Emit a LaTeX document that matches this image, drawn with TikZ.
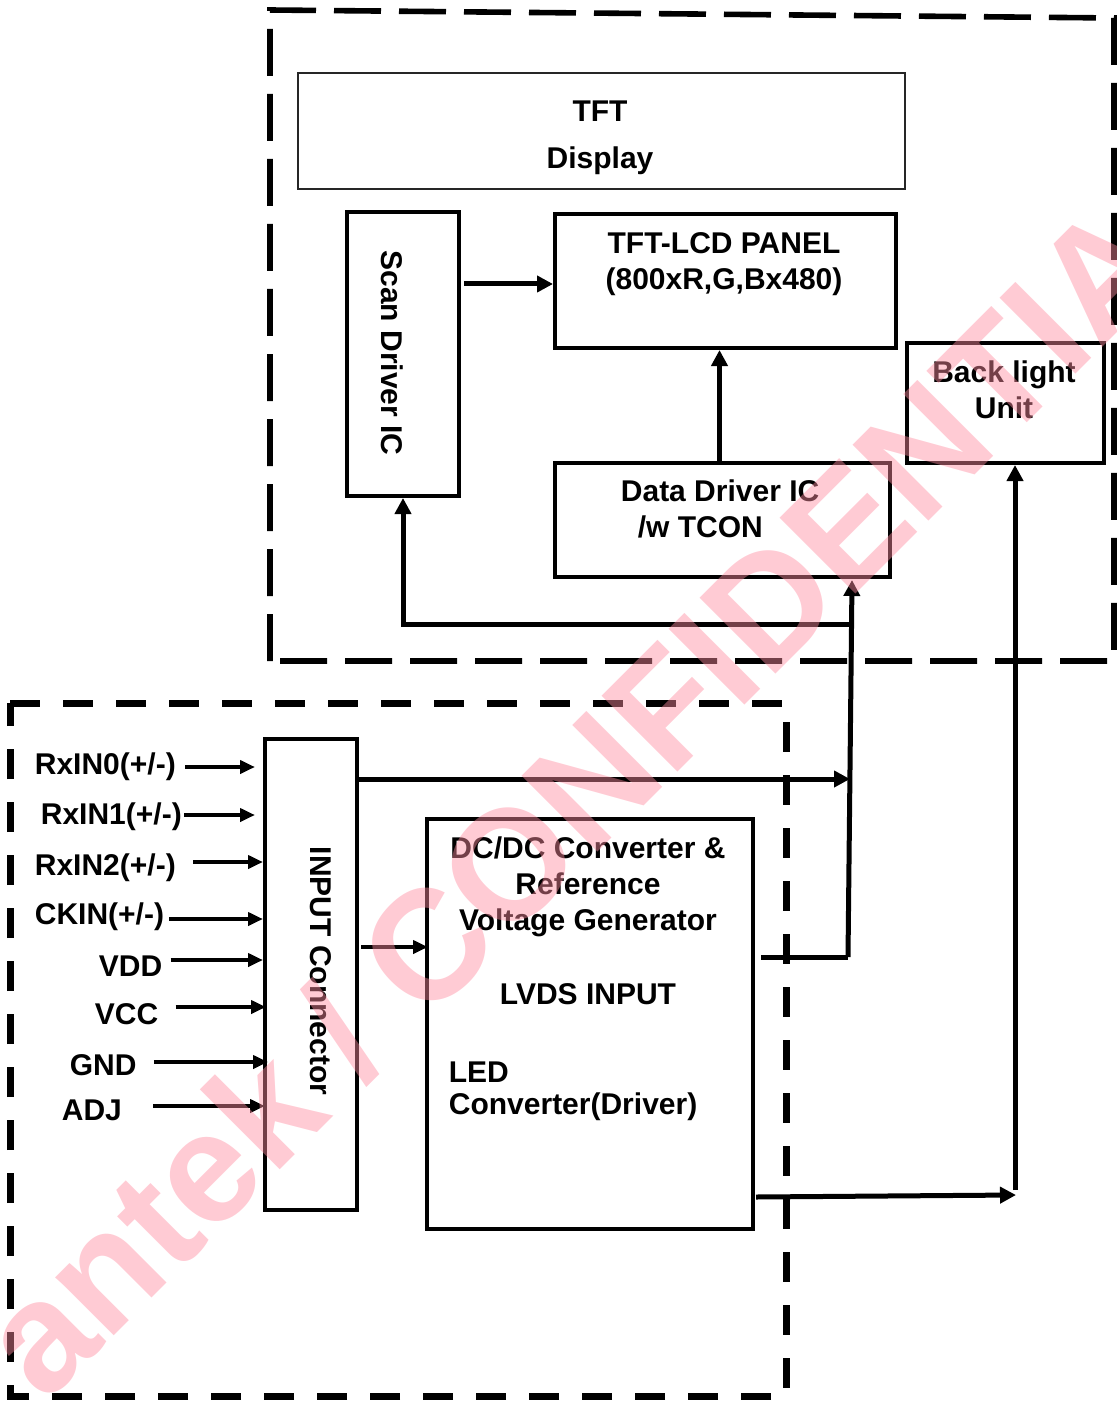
\documentclass[tikz,border=0pt]{standalone}
\usepackage{fontspec}
\setmainfont{Liberation Sans}
\usetikzlibrary{arrows.meta, positioning, calc}
\definecolor{wmpink}{RGB}{255,140,160}

\begin{document}
\begin{tikzpicture}[x=0.5pt,y=0.5pt,yscale=-1,xscale=1,
  box/.style={draw, line width=2pt, inner sep=0pt, anchor=north west},
  txt/.style={font=\fontsize{15}{18}\selectfont\bfseries, inner sep=0.75pt, align=center},
  conn/.style={line width=2.5pt, -{Triangle[length=8pt,width=8pt]}},
  sig/.style={line width=2pt, -{Triangle[length=7.5pt,width=6.5pt]}},
  bus/.style={line width=2.5pt},
  frametop/.style={line width=2.8pt, dash pattern=on 23.5pt off 9pt},
  framebot/.style={line width=3.5pt, dash pattern=on 15pt off 11.5pt},
  wmark/.style={font=\fontsize{78}{78}\selectfont\bfseries, text=wmpink, text opacity=0.45, inner sep=0pt}]
\useasboundingbox (0,0) rectangle (1116,1401);

%Dashed frames
\draw [frametop] (270,661) -- (270,10) -- (1114,18) -- (1114,661) -- cycle ;
\draw [framebot] (10,703) -- (786,703) -- (786,1396) -- (10,1396) -- cycle ;

%Shape: Rectangle [display]
\node [box, line width=1pt, draw=black!85, minimum width=303.5pt, minimum height=58pt] (disp) at (297,72) {};
%Shape: Rectangle [scan driver]
\node [box, minimum width=56pt, minimum height=142pt] (scan) at (345,210) {};
%Shape: Rectangle [panel]
\node [box, minimum width=170.5pt, minimum height=67pt] (panel) at (553,212) {};
%Shape: Rectangle [data driver]
\node [box, minimum width=167.5pt, minimum height=57pt] (ddrv) at (553,461) {};
%Shape: Rectangle [back light]
\node [box, minimum width=98.5pt, minimum height=60pt] (blu) at (905,341) {};
%Shape: Rectangle [input connector]
\node [box, minimum width=46pt, minimum height=235.5pt] (inconn) at (263,737) {};
%Shape: Rectangle [dc/dc]
\node [box, minimum width=163pt, minimum height=205pt] (dcdc) at (425,817) {};

% Text Node
\node [txt] (disptxt) at (600,138) {TFT\\[5.5pt]Display};
% Text Node
\node [txt] (paneltxt) at (724,264) {TFT-LCD PANEL\\(800xR,G,Bx480)};
% Text Node
\node [txt, align=left, anchor=west] (ddrvtxt) at (619,509) {Data Driver IC\\\hspace*{8.5pt}/w TCON};
% Text Node
\node [txt] (blutxt) at (1004,390) {Back light\\Unit};
% Text Node
\node [txt, rotate=-90] (scantxt) at (392,353) {Scan Driver IC};
% Text Node
\node [txt, rotate=-90] (conntxt) at (321,971) {INPUT Connector};
% Text Node
\node [txt] (dcdctxt) at (588,887) {DC/DC Converter \&\\Reference\\Voltage Generator};
% Text Node
\node [txt] (lvdstxt) at (588,994) {LVDS INPUT};
% Text Node
\node [txt, align=left, anchor=west, font=\fontsize{15}{16}\selectfont\bfseries] (ledtxt) at (447,1091) {LED\\Converter(Driver)};

% Text Node
\node [txt, anchor=west] (rx0) at (33,767) {RxIN0(+/-)};
% Text Node
\node [txt, anchor=west] (rx1) at (39,817) {RxIN1(+/-)};
% Text Node
\node [txt, anchor=west] (rx2) at (33,868) {RxIN2(+/-)};
% Text Node
\node [txt, anchor=west] (ckin) at (33,917) {CKIN(+/-)};
% Text Node
\node [txt, anchor=west] (vdd) at (97,966) {VDD};
% Text Node
\node [txt, anchor=west] (vcc) at (93,1014) {VCC};
% Text Node
\node [txt, anchor=west] (gnd) at (68,1065) {GND};
% Text Node
\node [txt, anchor=west] (adj) at (60,1110) {ADJ};

%Input arrows
\coordinate (rx0s) at ($(rx0.east)+(7.5,0)$);
\coordinate (rx1s) at ($(rx1.east)+(0.5,-2)$);
\coordinate (rx2s) at ($(rx2.east)+(15.5,-6)$);
\coordinate (ckins) at ($(ckin.east)+(3.5,2)$);
\coordinate (vdds) at ($(vdd.east)+(6.5,-6)$);
\coordinate (vccs) at ($(vcc.east)+(15.5,-7)$);
\coordinate (gnds) at ($(gnd.east)+(15.5,-3)$);
\coordinate (adjs) at ($(adj.east)+(29.5,-4)$);
\draw [sig] (rx0s) -- ($(rx0s -| inconn.west)+(-8,0)$) ;
\draw [sig] (rx1s) -- ($(rx1s -| inconn.west)+(-8,0)$) ;
\draw [sig] (rx2s) -- (rx2s -| inconn.west) ;
\draw [sig] (ckins) -- (ckins -| inconn.west) ;
\draw [sig] (vdds) -- (vdds -| inconn.west) ;
\draw [sig] (vccs) -- ($(vccs -| inconn.west)+(3,0)$) ;
\draw [sig] (gnds) -- ($(gnds -| inconn.west)+(5,0)$) ;
\draw [sig] (adjs) -- ($(adjs -| inconn.west)+(2,0)$) ;

%Straight Lines
\coordinate (busb) at (848,957);
\coordinate (bust) at (852,624);
\coordinate (feed) at (850,779);
\coordinate (dcin) at (428,947);
\coordinate (blbus) at (1016,1195);
\draw [conn] ($(scan.east |- panel.west)+(3,3)$) -- ($(panel.west)+(0,3)$) ;
\draw [conn] ($(ddrv.north)+(-3,0)$) -- ($(ddrv.north |- panel.south)+(-3,0)$) ;
\draw [bus] ($(dcdc.east |- busb)+(6,0)$) -- (busb) ;
\draw [conn] (busb) -- ($(bust |- ddrv.south)+(0,1)$) ;
\draw [conn] (bust) -| (scan.south) ;
\draw [conn] (inconn.east |- feed) -- (feed) ;
\draw [sig] ($(inconn.east |- dcin)+(2,0)$) -- (dcin) ;
\draw [conn] ($(dcdc.east |- blbus)+(1,2)$) -- (blbus) ;
\draw [conn] ($(blbus)+(-1,-5)$) -- ($(blbus |- blu.south)+(-1,0)$) ;

%Watermark
\begin{scope}
\clip (0,0) rectangle (1116,1401);
\node [wmark, rotate=45, anchor=base west] (wm) at (45,1405) {antek / CONFIDENTIA};
\end{scope}

\end{tikzpicture}
\end{document}
